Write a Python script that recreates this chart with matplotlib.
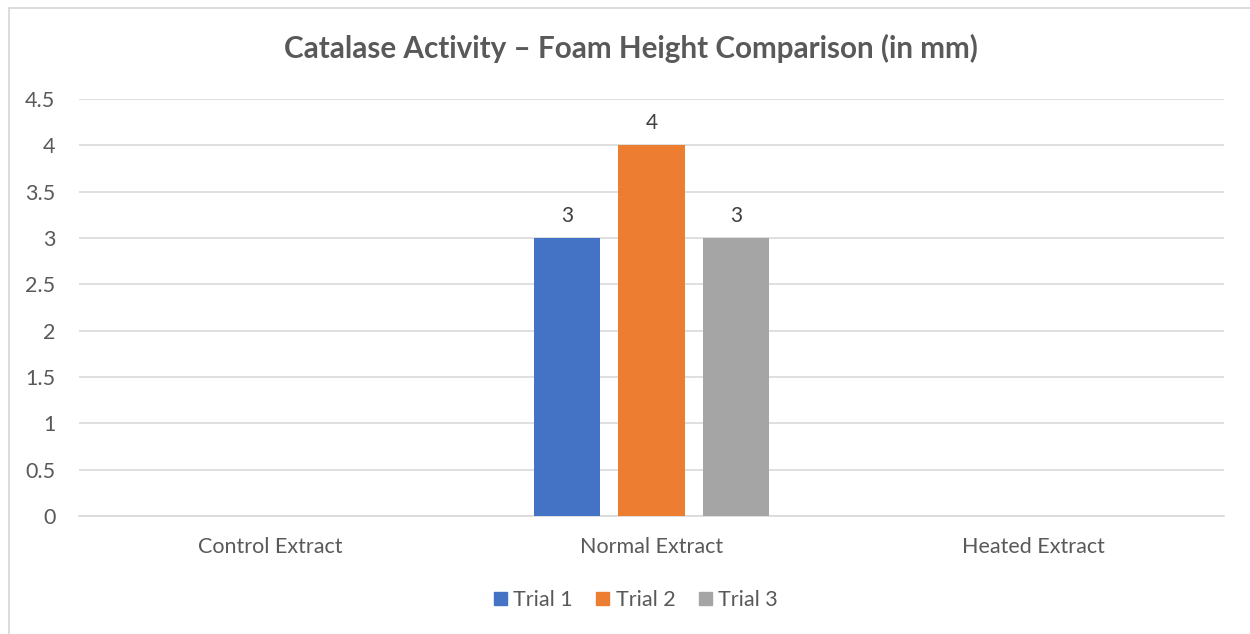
import matplotlib
matplotlib.use("Agg")
import matplotlib.pyplot as plt
from matplotlib.lines import Line2D
from matplotlib.patches import Patch
import numpy as np

categories = ["Control Extract", "Normal Extract", "Heated Extract"]
series_names = ["Trial 1", "Trial 2", "Trial 3"]
trial1 = [0, 3, 0]
trial2 = [0, 4, 0]
trial3 = [0, 3, 0]
yticks = [0, 0.5, 1, 1.5, 2, 2.5, 3, 3.5, 4, 4.5]
ytick_labels = ["0", "0.5", "1", "1.5", "2", "2.5", "3", "3.5", "4", "4.5"]
colors = ["#4472C4", "#ED7D31", "#A5A5A5"]

plt.rcParams['font.family'] = ['Lato', 'DejaVu Sans']
txt = "#595959"

W, H = 1250, 634
fig = plt.figure(figsize=(W/100, H/100), dpi=100)
fig.lines.append(Line2D([8.5/W, 8.5/W], [0, 1 - 7.5/H], transform=fig.transFigure,
                        color="#D9D9D9", lw=1.3))
fig.lines.append(Line2D([8.5/W, 1], [1 - 7.5/H, 1 - 7.5/H], transform=fig.transFigure,
                        color="#D9D9D9", lw=1.3))
ax = fig.add_axes([79/W, 1 - 516/H, (1224-79)/W, (516-99)/H])

x = np.arange(len(categories))
step = 0.2214
width = 0.1755
for i, (vals, name) in enumerate(zip([trial1, trial2, trial3], series_names)):
    bars = ax.bar(x + (i-1)*step, vals, width, color=colors[i], label=name, zorder=3)
    for b, v in zip(bars, vals):
        if v:
            ax.text(b.get_x() + b.get_width()/2, v + 0.13, f"{v:g}", ha="center",
                    va="bottom", fontsize=15, color="#404040")

ax.set_xlim(-0.5, 2.5)
ax.set_ylim(0, 4.5)
ax.set_yticks(yticks)
ax.set_yticklabels(ytick_labels)
ax.set_xticks(x)
ax.set_xticklabels(categories)
ax.yaxis.grid(True, color="#D9D9D9", lw=1.2, zorder=0)
ax.set_axisbelow(True)
for s in ["top", "right", "left"]:
    ax.spines[s].set_visible(False)
ax.spines["bottom"].set_color("#D9D9D9")
ax.spines["bottom"].set_linewidth(1.2)
ax.tick_params(axis="both", length=0, labelsize=15.5, colors=txt)
ax.tick_params(axis="y", pad=17)
ax.tick_params(axis="x", pad=15)

fig.text(631/W, 1 - 48/H, "Catalase Activity – Foam Height Comparison (in mm)",
         ha="center", va="center", fontsize=21.3, fontweight="bold", color=txt)

handles = [Patch(color=c, label=n) for c, n in zip(colors, series_names)]
fig.legend(handles=handles, loc="center", bbox_to_anchor=(636/W, 1 - 600/H), ncol=3,
           frameon=False, fontsize=15.5, labelcolor=txt, handlelength=0.6,
           handleheight=0.6, handletextpad=0.3, columnspacing=1.1)

fig.savefig("out.png", dpi=100, facecolor="white")
